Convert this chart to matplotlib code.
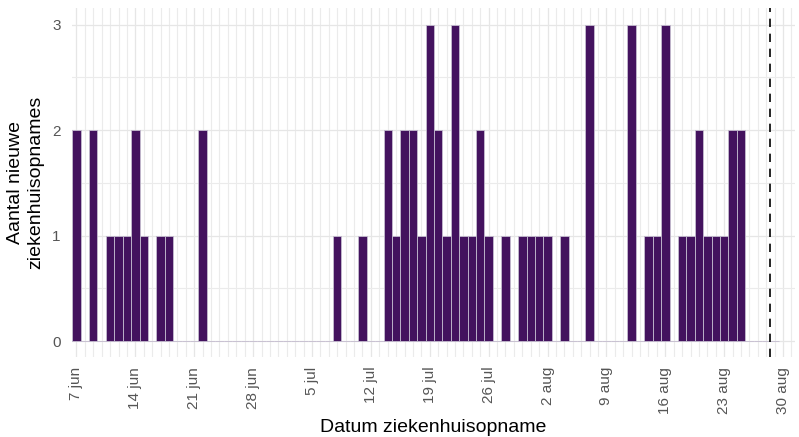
import pandas as pd
import matplotlib
matplotlib.use("Agg")
from matplotlib import pyplot as plt

# daily counts of new hospital admissions, starting 7 jun
start_date = "2020-06-07"
counts = [2, 0, 2, 0, 1, 1, 1, 2, 1, 0,
          1, 1, 0, 0, 0, 2, 0, 0, 0, 0,
          0, 0, 0, 0, 0, 0, 0, 0, 0, 0,
          0, 1, 0, 0, 1, 0, 0, 2, 1, 2,
          2, 1, 3, 2, 1, 3, 1, 1, 2, 1,
          0, 1, 0, 1, 1, 1, 1, 0, 1, 0,
          0, 3, 0, 0, 0, 0, 3, 0, 1, 1,
          3, 0, 1, 1, 2, 1, 1, 1, 2, 2,
          0, 0, 0, 0]
cutoff_date = "2020-08-28 12:00"
dutch_months = {6: "jun", 7: "jul", 8: "aug"}

dates = pd.date_range(start_date, periods=len(counts), freq="D")
week_ticks = pd.date_range(start_date, "2020-08-30", freq="7D")
tick_labels = [f"{d.day} {dutch_months[d.month]}" for d in week_ticks]

plt.rcParams["font.family"] = ["Liberation Sans", "DejaVu Sans"]

fig = plt.figure(figsize=(7.99, 4.37), dpi=100)
ax = fig.add_axes([0.090, 0.183, 0.905, 0.799])

ax.bar(dates, counts, width=1.0, color="#43125e",
       edgecolor="#c4bccf", linewidth=0.6, zorder=3)
ax.axvline(pd.Timestamp(cutoff_date), color="black", linestyle=(0, (5, 4)),
           linewidth=1.2, zorder=4)

# grid: one vertical line per day, half steps on y
all_days = pd.date_range(start_date, "2020-08-31", freq="D")
ax.set_xticks(all_days, minor=True)
ax.set_yticks([0, 0.5, 1, 1.5, 2, 2.5, 3], minor=True)
ax.grid(which="minor", color="#ebebeb", linewidth=0.8, zorder=0)
ax.grid(which="major", color="#e6e6e6", linewidth=0.9, zorder=0)

ax.set_xticks(week_ticks)
ax.set_xticklabels(tick_labels, rotation=90, fontsize=11, color="#555555")
ax.set_yticks([0, 1, 2, 3])
ax.set_yticklabels(["0", "1", "2", "3"], fontsize=11, color="#555555")
ax.tick_params(which="both", length=0)
ax.tick_params(axis="x", pad=7)
ax.tick_params(axis="y", pad=8)

ax.set_xlim(pd.Timestamp("2020-06-06 11:00"), pd.Timestamp("2020-08-31 10:00"))
ax.set_ylim(-0.15, 3.16)

for s in ax.spines.values():
    s.set_visible(False)

ax.set_xlabel("Datum ziekenhuisopname", fontsize=14, labelpad=4)
ax.set_ylabel("Aantal nieuwe\nziekenhuisopnames", fontsize=14, labelpad=6)

fig.savefig("out.png", dpi=100)
